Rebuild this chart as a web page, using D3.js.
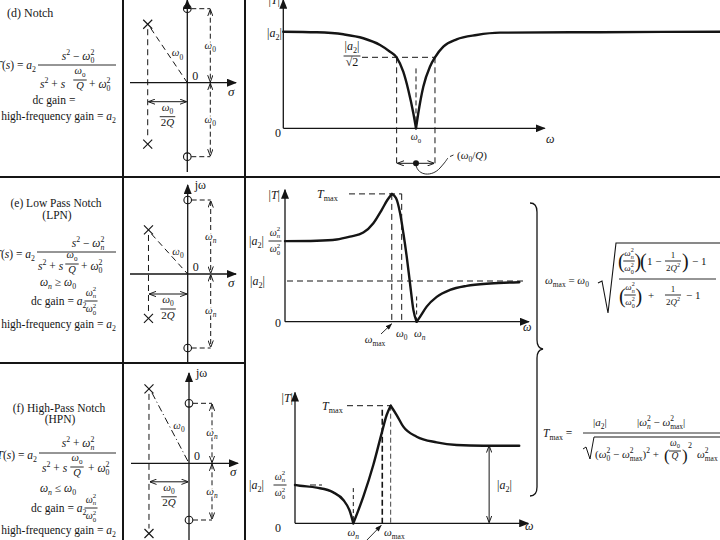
<!DOCTYPE html>
<html><head><meta charset="utf-8">
<script src="https://cdn.jsdelivr.net/npm/d3@7"></script>
<style>
body{margin:0;background:#fff}
svg{display:block}
text{font-family:"Liberation Serif","Times New Roman",serif}
</style>
</head><body>
<svg id="c" width="720" height="540"></svg>
<script>
// ---------------- data ----------------
// (d) Notch: omega/omega0 and |T|/|a2|
const notchW = [0,0.252,0.452,0.603,0.729,0.804,0.854,0.904,0.942,0.980,1.0,1.017,1.055,1.105,1.143,1.206,1.306,1.457,1.633,2.387,3.29];
const notchT = [1.0,0.994,0.973,0.932,0.862,0.793,0.735,0.586,0.397,0.155,0,0.155,0.431,0.638,0.735,0.845,0.921,0.966,0.99,0.995,1.0];
const notchLevels = [1, 0.735];            // |a2|, |a2|/sqrt2
const notchMarks = [0.854, 1, 1.143];      // band edges and omega0
// (e) Low-pass notch: omega/omega0 and |T|/|a2|
const lpnW = [0,0.271,0.443,0.557,0.671,0.757,0.829,0.877,0.915,0.951,0.986,1.014,1.043,1.071,1.1,1.128,1.157,1.214,1.3,1.414,1.557,1.757,2.008];
const lpnT = [1.98,1.99,2.02,2.09,2.19,2.42,2.75,2.99,3.14,3.04,2.67,2.18,1.60,0.95,0.29,0,0.12,0.37,0.61,0.78,0.88,0.94,0.97];
const lpnLevels = [1.98, 1, 3.14];         // dc gain, |a2|, Tmax
const lpnMarks = [0.915, 1, 1.128];        // omega_max, omega0, omega_n
// (f) High-pass notch: omega/omega_n and |T|/|a2|
const hpnW = [0,0.086,0.372,0.657,0.829,0.943,1.0,1.172,1.343,1.486,1.572,1.641,1.744,1.858,2.087,2.43,2.774,3.23,3.846];
const hpnT = [0.489,0.48,0.455,0.395,0.298,0.149,0,0.34,0.744,1.149,1.383,1.502,1.383,1.234,1.106,1.034,1.0,0.991,0.991];
const hpnLevels = [0.489, 1, 1.502];       // dc gain, |a2|, Tmax
const hpnMarks = [1.0, 1.497, 1.641, 3.33];// omega_n, omega0, omega_max, |a2| arrow
// pole-zero plots (units of the zero frequency)
const pzZerosD = [1, -1];
const pzPolesD = [[-0.535, 0.79], [-0.535, -0.83]];
const pzZerosE = [1, -1];
const pzPolesE = [[-0.53, 0.595], [-0.53, -0.6]];
const pzZerosF = [1, -0.945];
const pzPolesF = [[-0.667, 1.24], [-0.667, -1.17]];

// ---------------- helpers ----------------
const INK = '#151515';
const svg = d3.select('#c');
const defs = svg.append('defs');
defs.append('marker').attr('id','tri').attr('viewBox','0 0 10 8').attr('refX',9).attr('refY',4)
  .attr('markerWidth',10).attr('markerHeight',8).attr('markerUnits','userSpaceOnUse').attr('orient','auto')
  .append('path').attr('d','M0,0L10,4L0,8Z').attr('fill',INK);
defs.append('marker').attr('id','opn').attr('viewBox','0 0 8 6').attr('refX',7.5).attr('refY',3)
  .attr('markerWidth',7).attr('markerHeight',6).attr('markerUnits','userSpaceOnUse').attr('orient','auto-start-reverse')
  .append('path').attr('d','M0,0L8,3L0,6').attr('fill','none').attr('stroke',INK).attr('stroke-width',1.1);
defs.append('marker').attr('id','sm').attr('viewBox','0 0 8 6').attr('refX',7.5).attr('refY',3)
  .attr('markerWidth',7).attr('markerHeight',5).attr('markerUnits','userSpaceOnUse').attr('orient','auto')
  .append('path').attr('d','M0,0L8,3L0,6Z').attr('fill',INK);

function seg(g,x1,y1,x2,y2,o={}){
  const l=g.append('line').attr('x1',x1).attr('y1',y1).attr('x2',x2).attr('y2',y2)
    .attr('stroke',INK).attr('stroke-width',o.w||1);
  if(o.dash) l.attr('stroke-dasharray',o.dash===true?'6,4':o.dash);
  if(o.end) l.attr('marker-end','url(#'+o.end+')');
  if(o.start) l.attr('marker-start','url(#'+o.start+')');
  return l;
}
function parse(spec){
  const segs=[]; let i=0;
  const grab=()=>{ if(spec[i]==='{'){const j=spec.indexOf('}',i); const s=spec.slice(i+1,j); i=j+1; return s;} return spec[i++]; };
  while(i<spec.length){
    const c=spec[i];
    if(c==='_'||c==='^'){
      i++; const a=grab(); const sg={sub:null,sup:null}; if(c==='_')sg.sub=a; else sg.sup=a;
      if(spec[i]==='_'||spec[i]==='^'){const c2=spec[i]; i++; const b=grab(); if(c2==='_')sg.sub=b; else sg.sup=b;}
      segs.push(sg);
    } else { let j=i; while(j<spec.length&&spec[j]!=='_'&&spec[j]!=='^') j++; segs.push({txt:spec.slice(i,j)}); i=j; }
  }
  return segs;
}
function rich(g,x,y,spec,o={}){
  const size=o.size||12, math=o.math!==false;
  const t=g.append('text').attr('x',x).attr('y',y).attr('font-size',size)
    .attr('text-anchor',o.anchor||'start').attr('fill',INK);
  if(o.halo) t.attr('stroke','#fff').attr('stroke-width',3).attr('stroke-linejoin','round').attr('paint-order','stroke');
  let cur=0, pend=0;
  const put=(str,off,fs)=>{
    if(!str) return null;
    const runs=[];
    if(math){ const re=/([A-Za-zα-ω]+)|([^A-Za-zα-ω]+)/g; let m;
      while((m=re.exec(str))){ if(m[1]) runs.push([m[1],m[1].length===1]); else runs.push([m[2],false]); } }
    else runs.push([str,false]);
    let first=null;
    runs.forEach(([s,it])=>{
      const ts=t.append('tspan').attr('dy',off-cur).attr('font-size',fs).text(s); cur=off;
      if(it) ts.attr('font-style','italic');
      if(pend){ts.attr('dx',pend); pend=0;}
      if(!first) first=ts;
    });
    return first;
  };
  parse(spec).forEach(sg=>{
    if(sg.txt!==undefined){ put(sg.txt,0,size); return; }
    const fs=size*0.68;
    if(sg.sub!==null&&sg.sup!==null){
      const a=put(sg.sup,-size*0.42,fs); const la=a.node().getComputedTextLength();
      const b=put(sg.sub,size*0.28,fs); b.attr('dx',-la); const lb=b.node().getComputedTextLength();
      if(la>lb) pend=la-lb;
    } else if(sg.sub!==null) put(sg.sub,size*0.28,fs);
    else put(sg.sup,-size*0.42,fs);
  });
  return t;
}
const hasSub=s=>parse(s).some(q=>q.sub);
const hasSup=s=>parse(s).some(q=>q.sup);
function frac(g,cx,by,num,den,o={}){
  const size=o.size||12;
  const nOff=hasSub(num)?size*0.42+1.2:size*0.24+1.2;
  const dOff=hasSup(den)?size*0.98+1.2:size*0.76+1.2;
  const n=rich(g,cx,by-nOff,num,{size,anchor:'middle'});
  const d=rich(g,cx,by+dOff,den,{size,anchor:'middle'});
  const w=Math.max(n.node().getBBox().width,d.node().getBBox().width)+(o.pad||2);
  seg(g,cx-w/2,by,cx+w/2,by,{w:0.9});
}
function curve(g,x,y,W,T){
  const line=d3.line().x(d=>x(d[0])).y(d=>y(d[1])).curve(d3.curveMonotoneX);
  const pts=W.map((w,i)=>[w,T[i]]);
  const cuts=[0];
  for(let i=1;i<pts.length-1;i++){const a=pts[i-1][1],b=pts[i][1],c=pts[i+1][1]; if((b<a&&b<c)||(b>a&&b>c)) cuts.push(i);}
  cuts.push(pts.length-1);
  for(let k=0;k<cuts.length-1;k++)
    g.append('path').attr('d',line(pts.slice(cuts[k],cuts[k+1]+1))).attr('fill','none')
      .attr('stroke',INK).attr('stroke-width',2.4).attr('stroke-linejoin','round').attr('stroke-linecap','round');
}
function pzPanel(g,ox,oy,unit,zeros,poles,p){
  const sx=d3.scaleLinear().domain([0,1]).range([ox,ox+unit]);
  const sy=d3.scaleLinear().domain([0,1]).range([oy,oy-unit]);
  seg(g,sx(0),p.jwBot,sx(0),p.jwTop,{w:1.3,end:'tri'});
  seg(g,p.sL,sy(0),p.sR,sy(0),{w:1.3,end:'tri'});
  seg(g,sx(poles[0][0]),sy(poles[0][1])+5,sx(poles[1][0]),sy(poles[1][1])-5,{dash:'6,4'});
  seg(g,sx(poles[0][0])+3,sy(poles[0][1])+4,sx(0),sy(0),{dash:p.dd||'6,4'});
  zeros.forEach(z=>g.append('circle').attr('cx',sx(0)).attr('cy',sy(z)).attr('r',3.8)
    .attr('fill','none').attr('stroke',INK).attr('stroke-width',1.1));
  poles.forEach(pp=>{const cx=sx(pp[0]),cy=sy(pp[1]),h=4.5;
    seg(g,cx-h,cy-h,cx+h,cy+h,{w:1.1}); seg(g,cx-h,cy+h,cx+h,cy-h,{w:1.1});});
  const xd=sx(0)+23;
  zeros.forEach(z=>seg(g,sx(0)+4,sy(z),xd,sy(z),{dash:'5,3'}));
  seg(g,xd,sy(zeros[0])+1,xd,sy(0)-1,{dash:'5,3',start:'opn',end:'opn'});
  seg(g,xd,sy(0)+1,xd,sy(zeros[1])-1,{dash:'5,3',start:'opn',end:'opn'});
  seg(g,sx(poles[0][0])+1,sy(0)+p.arr,sx(0)-1,sy(0)+p.arr,{start:'opn',end:'opn'});
  rich(g,(sx(poles[0][0])+sx(0))/2+10,(sy(poles[0][1])+sy(0))/2+3,p.lab,{size:11,halo:true,anchor:'middle'});
  rich(g,xd,(sy(zeros[0])+sy(0))/2+3,p.dim,{size:11,halo:true,anchor:'middle'});
  rich(g,xd,(sy(zeros[1])+sy(0))/2+3,p.dim,{size:11,halo:true,anchor:'middle'});
  frac(g,(sx(poles[0][0])+sx(0))/2,sy(0)+p.arr+15,"ω_0","2Q",{size:11});
  rich(g,sx(0)+5,sy(0)-3,"0",{size:12});
  rich(g,p.sR-8,sy(0)+13,"σ",{size:13});
  if(p.jw) rich(g,sx(0)+7,p.jwTop+4,"jω",{size:12});
}

// ---------------- frame ----------------
const gB=svg.append('g');
seg(gB,123,0,123,540,{w:2});
seg(gB,245,0,245,540,{w:2});
seg(gB,0,177,720,177,{w:2});
seg(gB,0,363,245,363,{w:2});

// ---------------- left text ----------------
const gT=svg.append('g');
// (d)
rich(gT,7,17,"(d) Notch",{math:false,size:12});
rich(gT,36,69,"T(s) = a_2",{anchor:'end',size:11.5});
seg(gT,38,65,116,65,{w:0.9});
rich(gT,78,60,"s^2 − ω_0^2",{anchor:'middle',size:11.5});
rich(gT,40,88,"s^2 + s",{size:11.5});
frac(gT,80,80,"ω_0","Q",{size:10.5});
rich(gT,89,88,"+ ω_0^2",{size:11.5});
rich(gT,54,104,"dc gain =",{anchor:'middle',size:11.5});
rich(gT,116,120,"high-frequency gain = a_2",{anchor:'end',size:11.5});
// (e)
rich(gT,56,207,"(e) Low Pass Notch",{math:false,anchor:'middle',size:11.5});
rich(gT,57,219,"(LPN)",{math:false,anchor:'middle',size:11.5});
rich(gT,35,258,"T(s) = a_2",{anchor:'end',size:11.5});
seg(gT,37,252,116,252,{w:0.9});
rich(gT,88,247,"s^2 − ω_n^2",{anchor:'middle',size:11.5});
rich(gT,38,270,"s^2 + s",{size:11.5});
frac(gT,72,264,"ω_0","Q",{size:10.5});
rich(gT,81,270,"+ ω_0^2",{size:11.5});
rich(gT,58,286,"ω_n ≥ ω_0",{anchor:'middle',size:11.5});
rich(gT,31,305,"dc gain = a_2",{size:11.5});
frac(gT,91,301,"ω_n^2","ω_0^2",{size:10});
rich(gT,116,328,"high-frequency gain = a_2",{anchor:'end',size:11.5});
// (f)
rich(gT,59,412,"(f) High-Pass Notch",{math:false,anchor:'middle',size:11.5});
rich(gT,60,423,"(HPN)",{math:false,anchor:'middle',size:11.5});
rich(gT,37,459,"T(s) = a_2",{anchor:'end',size:11.5});
seg(gT,39,453,116,453,{w:0.9});
rich(gT,78,447,"s^2 + ω_n^2",{anchor:'middle',size:11.5});
rich(gT,42,472,"s^2 + s",{size:11.5});
frac(gT,77,467,"ω_0","Q",{size:10.5});
rich(gT,88,472,"+ ω_0^2",{size:11.5});
rich(gT,58,492,"ω_n ≤ ω_0",{anchor:'middle',size:11.5});
rich(gT,31,512,"dc gain = a_2",{size:11.5});
frac(gT,91,508,"ω_n^2","ω_0^2",{size:10});
rich(gT,116,534,"high-frequency gain = a_2",{anchor:'end',size:11.5});

// ---------------- pole-zero plots ----------------
const gP=svg.append('g');
pzPanel(gP,187.3,82.7,74,pzZerosD,pzPolesD,{jwBot:172,jwTop:0,sL:130,sR:236,arr:19,lab:"ω_0",dim:"ω_0",jw:false});
pzPanel(gP,187.7,274,74,pzZerosE,pzPolesE,{jwBot:362,jwTop:185,sL:130,sR:236,arr:20,lab:"ω_0",dim:"ω_n",jw:true});
pzPanel(gP,189,463.3,60,pzZerosF,pzPolesF,{jwBot:541,jwTop:373,sL:131,sR:238,arr:18.5,lab:"ω_0",dim:"ω_n",jw:true,dd:'7,3,1,3'});

// ---------------- (d) magnitude ----------------
const gD=svg.append('g');
const xd=d3.scaleLinear().domain([0,1]).range([283.3,416]);
const yd=d3.scaleLinear().domain([0,1]).range([128.3,31.7]);
seg(gD,xd(0),yd(0),xd(0),yd(1.33),{w:1.3,end:'tri'});
seg(gD,xd(0),yd(0),xd(1.97),yd(0),{w:1.3,end:'tri'});
seg(gD,362,yd(notchLevels[1]),xd(notchMarks[2]),yd(notchLevels[1]),{dash:true});
seg(gD,xd(notchMarks[0]),yd(notchLevels[1]),xd(notchMarks[0]),166,{dash:true});
seg(gD,xd(notchMarks[2]),yd(notchLevels[1]),xd(notchMarks[2]),166,{dash:true});
seg(gD,xd(notchMarks[1]),yd(0.62),xd(notchMarks[1]),yd(0),{dash:'5,3'});
curve(gD,xd,yd,notchW,notchT);
seg(gD,xd(notchMarks[0])+1,163.3,xd(notchMarks[2])-1,163.3,{start:'opn',end:'opn'});
gD.append('circle').attr('cx',xd(notchMarks[1])).attr('cy',163.3).attr('r',3).attr('fill',INK);
gD.append('path').attr('d','M416,165 C418,176 432,177 440,168 S446,160 448,158').attr('fill','none').attr('stroke',INK).attr('stroke-width',0.9);
seg(gD,450,156.5,453.5,155,{w:0.9});
rich(gD,280,4,"|T|",{anchor:'end',size:12});
rich(gD,282,37,"|a_2|",{anchor:'end',size:12});
frac(gD,352,56,"|a_2|","√2",{size:12});
rich(gD,281,137,"0",{anchor:'end',size:12});
rich(gD,xd(notchMarks[1]),140,"ω_0",{anchor:'middle',size:10});
rich(gD,546,143,"ω",{size:12});
rich(gD,457,159,"(ω_0/Q)",{size:11});

// ---------------- (e) magnitude ----------------
const gE=svg.append('g');
const xe=d3.scaleLinear().domain([0,1]).range([285,401.7]);
const ye=d3.scaleLinear().domain([0,1]).range([321.7,281]);
seg(gE,xe(0),ye(0),xe(0),ye(3.24),{w:1.3,end:'tri'});
seg(gE,xe(0),ye(0),xe(2.09),ye(0),{w:1.3,end:'tri'});
seg(gE,349,ye(lpnLevels[2]),xe(lpnMarks[1]),ye(lpnLevels[2]),{dash:true});
seg(gE,xe(lpnMarks[0]),ye(lpnLevels[2]),xe(lpnMarks[0]),ye(0),{dash:true});
seg(gE,xe(lpnMarks[1]),ye(lpnLevels[2]),xe(lpnMarks[1]),ye(0),{dash:true});
seg(gE,xe(0)+2,ye(lpnLevels[1]),xe(2.05),ye(lpnLevels[1]),{dash:true});
seg(gE,xe(lpnMarks[2]),ye(0.62),xe(lpnMarks[2]),ye(0),{dash:'4,3'});
curve(gE,xe,ye,lpnW,lpnT);
rich(gE,280,199,"|T|",{anchor:'end',size:12});
rich(gE,317,198,"T_{max}",{size:12});
rich(gE,249,245,"|a_2|",{size:12});
frac(gE,275,241,"ω_n^2","ω_0^2",{size:10});
rich(gE,250,285,"|a_2|",{size:12});
rich(gE,281,327,"0",{anchor:'end',size:12});
rich(gE,xe(lpnMarks[1]),337,"ω_0",{anchor:'middle',size:11});
rich(gE,xe(lpnMarks[2])+3,337,"ω_n",{anchor:'middle',size:11});
rich(gE,375,343,"ω_{max}",{anchor:'middle',size:11});
seg(gE,381,334,xe(lpnMarks[0]),ye(0)+2,{w:0.9,end:'sm'});
rich(gE,523,331,"ω",{size:12});

// ---------------- (f) magnitude ----------------
const gFm=svg.append('g');
const xf=d3.scaleLinear().domain([0,1]).range([295,353.3]);
const yf=d3.scaleLinear().domain([0,1]).range([523.3,445]);
seg(gFm,xf(0),yf(0),xf(0),yf(1.67),{w:1.3,end:'tri'});
seg(gFm,xf(0),yf(0),xf(4.0),yf(0),{w:1.3,end:'tri'});
seg(gFm,347,yf(hpnLevels[2]),xf(hpnMarks[2]),yf(hpnLevels[2]),{dash:true});
seg(gFm,xf(hpnMarks[1]),yf(1.45),xf(hpnMarks[1]),yf(0),{dash:'6,3',w:1.6});
seg(gFm,xf(hpnMarks[2]),yf(hpnLevels[2]),xf(hpnMarks[2]),yf(0),{dash:'5,3',w:0.8});
seg(gFm,310,yf(hpnLevels[0]),322,yf(hpnLevels[0]),{dash:'6,3'});
seg(gFm,xf(hpnMarks[0]),yf(0.45),xf(hpnMarks[0]),yf(0),{dash:'4,3'});
curve(gFm,xf,yf,hpnW,hpnT);
seg(gFm,xf(hpnMarks[3]),yf(hpnLevels[1])+1,xf(hpnMarks[3]),yf(0)-1,{start:'opn',end:'opn'});
rich(gFm,293,402,"|T|",{anchor:'end',size:12});
rich(gFm,322,410,"T_{max}",{size:12});
rich(gFm,249,489,"|a_2|",{size:12});
frac(gFm,280,485,"ω_n^2","ω_0^2",{size:10});
rich(gFm,497,489,"|a_2|",{size:12});
rich(gFm,281,532,"0",{anchor:'end',size:12});
rich(gFm,xf(hpnMarks[0]),536,"ω_n",{anchor:'middle',size:11});
rich(gFm,384,536,"ω_{max}",{size:11});
seg(gFm,366,541,xf(hpnMarks[1])-1,yf(0)+2,{w:0.9,end:'sm'});
rich(gFm,525,530,"ω",{size:12});

// ---------------- brace and formulas ----------------
const gR=svg.append('g');
gR.append('path').attr('d','M530,203 Q537,203 537,212 L537,340 Q537,348 543,349 Q537,350 537,358 L537,487 Q537,496 530,496')
  .attr('fill','none').attr('stroke',INK).attr('stroke-width',1.3);
// omega_max
rich(gR,545,284,"ω_{max} = ω_0",{size:11});
gR.append('path').attr('d','M598,283 L602,281 L608,313 L616,243 L722,243').attr('fill','none').attr('stroke',INK).attr('stroke-width',1.1);
seg(gR,619,279,716,279,{w:0.9});
rich(gR,618,268,"(",{size:20,math:false});
frac(gR,629,261,"ω_n^2","ω_0^2",{size:9});
rich(gR,634.5,268,")",{size:20,math:false});
rich(gR,640,268,"(",{size:20,math:false});
rich(gR,647,265,"1 −",{size:11});
frac(gR,673,261,"1","2Q^2",{size:9});
rich(gR,682,268,")",{size:20,math:false});
rich(gR,692,265,"− 1",{size:11});
rich(gR,619,303,"(",{size:20,math:false});
frac(gR,630,295,"ω_n^2","ω_0^2",{size:9});
rich(gR,635.5,303,")",{size:20,math:false});
rich(gR,648,299,"+",{size:11});
frac(gR,673,295,"1","2Q^2",{size:9});
rich(gR,686,299,"− 1",{size:11});
// Tmax
rich(gR,543,437,"T_{max} =",{size:11.5});
seg(gR,583,433,722,433,{w:0.9});
rich(gR,593,426,"|a_2|",{size:11});
rich(gR,637,426,"|ω_n^2 − ω_{max}^2|",{size:11});
gR.append('path').attr('d','M583,449 L586,447 L590,459 L594,437 L722,437').attr('fill','none').attr('stroke',INK).attr('stroke-width',1);
rich(gR,595,458,"(ω_0^2 − ω_{max}^2)^2 +",{size:11});
rich(gR,664,461,"(",{size:17,math:false});
frac(gR,675,451,"ω_0","Q",{size:9.5});
rich(gR,682,461,")",{size:17,math:false});
rich(gR,688,448,"2",{size:8,math:false});
rich(gR,697,458,"ω_{max}^2",{size:11});
</script>
</body></html>
